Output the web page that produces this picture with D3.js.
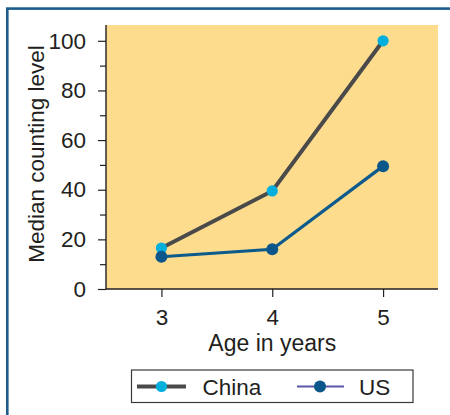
<!DOCTYPE html>
<html><head><meta charset="utf-8">
<script src="https://cdn.jsdelivr.net/npm/d3@7"></script>
<style>body{margin:0;background:#fff}svg{display:block}text{font-family:"Liberation Sans",Arial,sans-serif;fill:#231f20}</style>
</head><body><svg id="c" width="450" height="415"></svg>
<script>
const ages = [3, 4, 5];
const china = [16.5, 39.5, 100];
const us = [13, 16, 49.5];
const yTicks = [0, 20, 40, 60, 80, 100];
const yMinor = [10, 30, 50, 70, 90];
const seriesNames = ["China", "US"];

const svg = d3.select("#c");
// frame
svg.append("rect").attr("x", 7.3).attr("y", 8.6).attr("width", 460).attr("height", 430)
  .attr("fill", "none").attr("stroke", "#1c5d8d").attr("stroke-width", 2.6);

const L = 106, R = 438, T = 25, B = 289;
const x = d3.scaleLinear().domain([2.5, 5.5]).range([L, R + 0.5]);
const y = d3.scaleLinear().domain([0, 100]).range([B, 40.8]);

svg.append("rect").attr("x", L).attr("y", T).attr("width", R - L).attr("height", B - T).attr("fill", "#fddc8e");

// y axis
const ya = svg.append("g").attr("transform", `translate(${L},0)`)
  .call(d3.axisLeft(y).tickValues(yTicks).tickSize(8).tickPadding(12).tickSizeOuter(0));
ya.select(".domain").remove();
ya.selectAll("line").attr("stroke", "#231f20").attr("stroke-width", 1.2);
ya.selectAll("text").attr("font-size", 22.5).attr("fill", "#231f20").attr("font-family", "Liberation Sans, Arial, sans-serif");
svg.append("g").attr("transform", `translate(${L},0)`)
  .call(d3.axisLeft(y).tickValues(yMinor).tickSize(6).tickFormat(""))
  .call(g => g.select(".domain").remove())
  .selectAll("line").attr("stroke", "#231f20").attr("stroke-width", 1.2);
svg.append("line").attr("x1", L).attr("x2", L).attr("y1", T).attr("y2", B + 0.6).attr("stroke", "#231f20").attr("stroke-width", 1.4);

// x axis
const xa = svg.append("g").attr("transform", `translate(0,${B})`)
  .call(d3.axisBottom(x).tickValues(ages).tickSize(8).tickPadding(12).tickFormat(d3.format("d")));
xa.select(".domain").remove();
xa.selectAll("line").attr("stroke", "#231f20").attr("stroke-width", 1.2);
xa.selectAll("text").attr("font-size", 22.5).attr("fill", "#231f20").attr("font-family", "Liberation Sans, Arial, sans-serif");
svg.append("line").attr("x1", L).attr("x2", R).attr("y1", B).attr("y2", B).attr("stroke", "#231f20").attr("stroke-width", 1.4);

// axis titles
svg.append("text").attr("transform", `translate(44,154) rotate(-90)`).attr("text-anchor", "middle")
  .attr("font-size", 22.5).text("Median counting level");
svg.append("text").attr("x", x(4)).attr("y", 350.5).attr("text-anchor", "middle").attr("font-size", 23).text("Age in years");

const line = d3.line().x((d, i) => x(ages[i])).y(d => y(d));
svg.append("path").datum(china).attr("d", line).attr("fill", "none").attr("stroke", "#4a4a4a").attr("stroke-width", 4);
svg.append("path").datum(us).attr("d", line).attr("fill", "none").attr("stroke", "#0d5a8c").attr("stroke-width", 3.2);
svg.selectAll(".cm").data(china).join("circle").attr("cx", (d, i) => x(ages[i])).attr("cy", d => y(d)).attr("r", 5.6).attr("fill", "#00afdb");
svg.selectAll(".um").data(us).join("circle").attr("cx", (d, i) => x(ages[i])).attr("cy", d => y(d)).attr("r", 6).attr("fill", "#0b568a");

// legend
svg.append("rect").attr("x", 131.5).attr("y", 370).attr("width", 281.5).attr("height", 32.5).attr("fill", "#fff").attr("stroke", "#3a3a3a").attr("stroke-width", 1.2);
const lg = [
  {name: seriesNames[0], x1: 137, x2: 186, cx: 161.5, lc: "#4a4a4a", lw: 4, mc: "#00afdb", r: 5.6, tx: 202.5},
  {name: seriesNames[1], x1: 297, x2: 344, cx: 320, lc: "#5b58a8", lw: 2, mc: "#0b568a", r: 6, tx: 359}
];
lg.forEach(d => {
  svg.append("line").attr("x1", d.x1).attr("x2", d.x2).attr("y1", 386.5).attr("y2", 386.5).attr("stroke", d.lc).attr("stroke-width", d.lw);
  svg.append("circle").attr("cx", d.cx).attr("cy", 386.5).attr("r", d.r).attr("fill", d.mc);
  svg.append("text").attr("x", d.tx).attr("y", 394.5).attr("font-size", 22.5).text(d.name);
});
</script></body></html>
